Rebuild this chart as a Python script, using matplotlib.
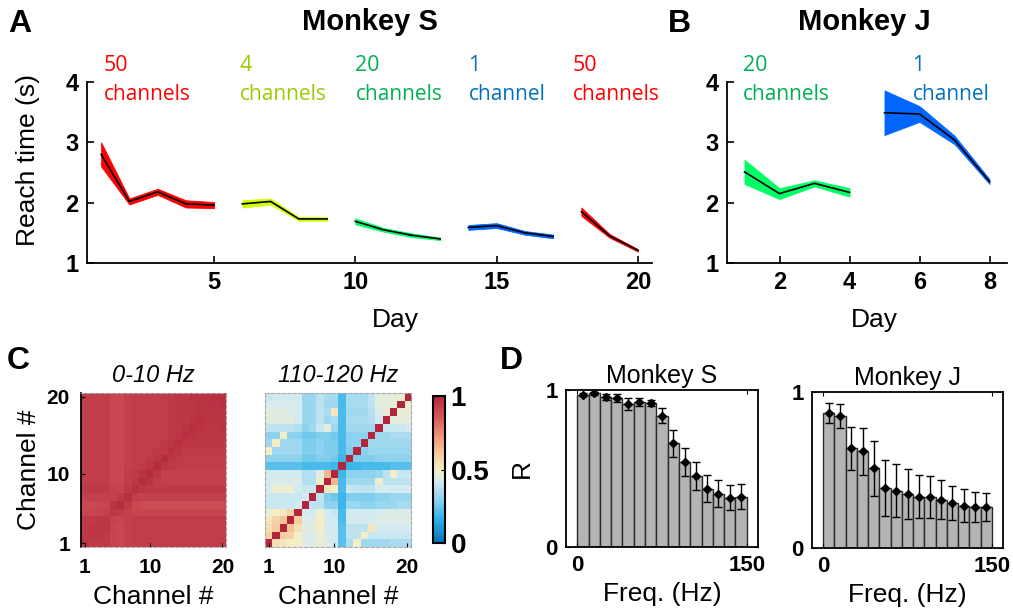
import matplotlib
matplotlib.use('Agg')
import matplotlib.pyplot as plt
import numpy as np
from matplotlib.colors import LinearSegmentedColormap

plt.rcParams['font.family'] = ['Liberation Sans', 'DejaVu Sans']

# ---------------- data ----------------
# Panel A: Monkey S reach times
s_days = [1, 2, 3, 4, 5, 6, 7, 8, 9, 10, 11, 12, 13, 14, 15, 16, 17, 18, 19, 20]
s_channels = [50, 50, 50, 50, 50, 4, 4, 4, 4, 20, 20, 20, 20, 1, 1, 1, 1, 50, 50, 50]
s_mean = [2.80, 2.02, 2.18, 1.98, 1.96, 1.98, 2.02, 1.73, 1.73, 1.69, 1.55, 1.46, 1.40,
          1.59, 1.62, 1.50, 1.44, 1.85, 1.45, 1.21]
s_err = [0.20, 0.05, 0.05, 0.06, 0.05, 0.06, 0.05, 0.03, 0.03, 0.05, 0.03, 0.03, 0.02,
         0.04, 0.04, 0.03, 0.03, 0.07, 0.03, 0.02]

# Panel B: Monkey J reach times
j_days = [1, 2, 3, 4, 5, 6, 7, 8]
j_channels = [20, 20, 20, 20, 1, 1, 1, 1]
j_mean = [2.51, 2.15, 2.32, 2.17, 3.49, 3.47, 3.04, 2.35]
j_err = [0.20, 0.09, 0.05, 0.07, 0.37, 0.13, 0.07, 0.04]

# Panel C: correlation matrices (rows: channel 1..20, cols: channel 1..20)
corr_low = [
    [0.95, 0.94, 0.94, 0.94, 0.91, 0.90, 0.92, 0.93, 0.93, 0.93, 0.93, 0.93, 0.93, 0.93, 0.93, 0.93, 0.93, 0.93, 0.93, 0.93],
    [0.94, 0.95, 0.95, 0.94, 0.91, 0.90, 0.92, 0.93, 0.93, 0.93, 0.93, 0.93, 0.93, 0.93, 0.93, 0.93, 0.93, 0.93, 0.93, 0.93],
    [0.94, 0.95, 0.95, 0.95, 0.91, 0.90, 0.92, 0.93, 0.93, 0.93, 0.93, 0.93, 0.93, 0.93, 0.93, 0.93, 0.93, 0.93, 0.93, 0.93],
    [0.94, 0.94, 0.95, 0.95, 0.92, 0.91, 0.92, 0.93, 0.93, 0.93, 0.93, 0.93, 0.93, 0.93, 0.93, 0.93, 0.93, 0.93, 0.93, 0.93],
    [0.91, 0.91, 0.91, 0.92, 0.95, 0.94, 0.92, 0.91, 0.91, 0.91, 0.91, 0.91, 0.91, 0.91, 0.91, 0.91, 0.91, 0.91, 0.91, 0.91],
    [0.90, 0.90, 0.90, 0.91, 0.96, 0.98, 0.94, 0.90, 0.89, 0.89, 0.89, 0.89, 0.89, 0.89, 0.89, 0.89, 0.89, 0.89, 0.89, 0.89],
    [0.92, 0.92, 0.92, 0.92, 0.92, 0.94, 0.97, 0.93, 0.92, 0.92, 0.92, 0.92, 0.92, 0.92, 0.92, 0.92, 0.92, 0.92, 0.92, 0.92],
    [0.94, 0.94, 0.94, 0.94, 0.92, 0.91, 0.94, 0.97, 0.95, 0.94, 0.94, 0.94, 0.94, 0.94, 0.94, 0.94, 0.94, 0.94, 0.94, 0.94],
    [0.93, 0.93, 0.93, 0.93, 0.90, 0.90, 0.93, 0.95, 0.98, 0.96, 0.93, 0.92, 0.92, 0.92, 0.92, 0.92, 0.92, 0.92, 0.92, 0.92],
    [0.93, 0.93, 0.93, 0.93, 0.90, 0.90, 0.93, 0.94, 0.96, 0.98, 0.95, 0.92, 0.92, 0.92, 0.92, 0.92, 0.92, 0.92, 0.92, 0.92],
    [0.93, 0.93, 0.93, 0.93, 0.90, 0.90, 0.92, 0.93, 0.94, 0.95, 0.98, 0.95, 0.94, 0.93, 0.93, 0.93, 0.93, 0.93, 0.93, 0.93],
    [0.93, 0.93, 0.93, 0.93, 0.90, 0.90, 0.92, 0.93, 0.93, 0.94, 0.95, 0.98, 0.95, 0.94, 0.93, 0.93, 0.93, 0.93, 0.93, 0.93],
    [0.93, 0.93, 0.93, 0.93, 0.90, 0.90, 0.92, 0.93, 0.93, 0.93, 0.94, 0.95, 0.97, 0.95, 0.94, 0.94, 0.94, 0.94, 0.94, 0.94],
    [0.93, 0.93, 0.93, 0.93, 0.90, 0.90, 0.92, 0.93, 0.93, 0.93, 0.93, 0.94, 0.95, 0.97, 0.95, 0.95, 0.95, 0.95, 0.95, 0.95],
    [0.93, 0.93, 0.93, 0.93, 0.90, 0.90, 0.92, 0.93, 0.93, 0.93, 0.93, 0.93, 0.94, 0.95, 0.97, 0.96, 0.95, 0.95, 0.95, 0.95],
    [0.93, 0.93, 0.93, 0.93, 0.90, 0.90, 0.92, 0.93, 0.93, 0.93, 0.93, 0.93, 0.94, 0.95, 0.96, 0.97, 0.96, 0.95, 0.95, 0.96],
    [0.93, 0.93, 0.93, 0.93, 0.90, 0.90, 0.92, 0.93, 0.93, 0.93, 0.93, 0.93, 0.94, 0.95, 0.95, 0.96, 0.97, 0.96, 0.96, 0.96],
    [0.93, 0.93, 0.93, 0.93, 0.90, 0.90, 0.92, 0.93, 0.93, 0.93, 0.93, 0.93, 0.94, 0.95, 0.95, 0.95, 0.96, 0.96, 0.96, 0.96],
    [0.93, 0.93, 0.93, 0.93, 0.90, 0.90, 0.92, 0.93, 0.93, 0.93, 0.93, 0.93, 0.94, 0.95, 0.95, 0.95, 0.96, 0.96, 0.96, 0.97],
    [0.93, 0.93, 0.93, 0.93, 0.90, 0.90, 0.92, 0.93, 0.93, 0.93, 0.93, 0.94, 0.94, 0.95, 0.95, 0.96, 0.96, 0.96, 0.97, 0.97],
]
corr_high = [
    [1.00, 0.55, 0.52, 0.50, 0.50, 0.44, 0.44, 0.48, 0.44, 0.42, 0.22, 0.35, 0.50, 0.33, 0.33, 0.33, 0.33, 0.35, 0.35, 0.35],
    [0.58, 1.00, 0.60, 0.58, 0.50, 0.44, 0.44, 0.48, 0.44, 0.42, 0.22, 0.38, 0.38, 0.50, 0.40, 0.40, 0.40, 0.40, 0.40, 0.40],
    [0.55, 0.60, 1.00, 0.62, 0.55, 0.45, 0.45, 0.50, 0.42, 0.42, 0.22, 0.38, 0.38, 0.38, 0.52, 0.42, 0.42, 0.42, 0.42, 0.42],
    [0.52, 0.58, 0.62, 1.00, 0.60, 0.44, 0.44, 0.50, 0.42, 0.42, 0.20, 0.42, 0.42, 0.42, 0.42, 0.44, 0.44, 0.44, 0.44, 0.44],
    [0.48, 0.50, 0.52, 0.58, 1.00, 0.42, 0.42, 0.48, 0.42, 0.40, 0.20, 0.42, 0.42, 0.42, 0.42, 0.42, 0.44, 0.44, 0.44, 0.44],
    [0.40, 0.40, 0.40, 0.40, 0.42, 1.00, 0.38, 0.38, 0.30, 0.30, 0.18, 0.32, 0.32, 0.30, 0.30, 0.32, 0.32, 0.32, 0.34, 0.34],
    [0.40, 0.40, 0.40, 0.40, 0.40, 0.42, 1.00, 0.38, 0.28, 0.25, 0.18, 0.28, 0.28, 0.28, 0.28, 0.30, 0.30, 0.32, 0.32, 0.32],
    [0.42, 0.48, 0.48, 0.48, 0.42, 0.40, 0.40, 1.00, 0.52, 0.50, 0.20, 0.40, 0.38, 0.38, 0.38, 0.42, 0.42, 0.42, 0.42, 0.42],
    [0.44, 0.44, 0.44, 0.44, 0.44, 0.36, 0.36, 0.50, 1.00, 0.65, 0.20, 0.33, 0.33, 0.33, 0.33, 0.48, 0.38, 0.38, 0.38, 0.38],
    [0.42, 0.42, 0.42, 0.42, 0.42, 0.36, 0.36, 0.45, 0.65, 1.00, 0.18, 0.30, 0.30, 0.30, 0.30, 0.32, 0.38, 0.50, 0.40, 0.40],
    [0.22, 0.22, 0.22, 0.22, 0.22, 0.20, 0.20, 0.20, 0.20, 0.18, 1.00, 0.18, 0.18, 0.20, 0.20, 0.20, 0.20, 0.22, 0.22, 0.22],
    [0.30, 0.30, 0.30, 0.30, 0.30, 0.26, 0.26, 0.28, 0.28, 0.26, 0.18, 1.00, 0.28, 0.28, 0.28, 0.30, 0.30, 0.30, 0.30, 0.30],
    [0.50, 0.33, 0.33, 0.33, 0.33, 0.28, 0.28, 0.30, 0.28, 0.28, 0.20, 0.28, 1.00, 0.30, 0.32, 0.32, 0.32, 0.32, 0.32, 0.32],
    [0.33, 0.50, 0.33, 0.33, 0.33, 0.28, 0.28, 0.30, 0.28, 0.28, 0.20, 0.30, 0.30, 1.00, 0.33, 0.33, 0.33, 0.33, 0.33, 0.33],
    [0.30, 0.30, 0.50, 0.30, 0.30, 0.26, 0.26, 0.28, 0.28, 0.26, 0.20, 0.30, 0.30, 0.30, 1.00, 0.33, 0.33, 0.35, 0.35, 0.35],
    [0.38, 0.38, 0.38, 0.38, 0.36, 0.30, 0.33, 0.40, 0.46, 0.33, 0.20, 0.33, 0.33, 0.33, 0.33, 1.00, 0.40, 0.40, 0.40, 0.42],
    [0.45, 0.45, 0.45, 0.45, 0.42, 0.32, 0.32, 0.38, 0.33, 0.35, 0.20, 0.34, 0.34, 0.34, 0.36, 0.42, 1.00, 0.46, 0.46, 0.46],
    [0.45, 0.45, 0.45, 0.44, 0.42, 0.32, 0.32, 0.38, 0.35, 0.52, 0.20, 0.33, 0.33, 0.33, 0.36, 0.44, 0.46, 1.00, 0.47, 0.47],
    [0.43, 0.43, 0.43, 0.43, 0.42, 0.32, 0.32, 0.38, 0.33, 0.33, 0.20, 0.34, 0.34, 0.34, 0.38, 0.46, 0.46, 0.46, 1.00, 0.48],
    [0.40, 0.42, 0.42, 0.42, 0.42, 0.32, 0.32, 0.38, 0.34, 0.34, 0.20, 0.34, 0.34, 0.34, 0.38, 0.46, 0.46, 0.46, 0.48, 1.00],
]

# Panel D: decoding R per frequency band
freq_bins_hz = [5, 15, 25, 35, 45, 55, 65, 75, 85, 95, 105, 115, 125, 135, 145]
r_monkey_s = [0.97, 0.98, 0.955, 0.947, 0.91, 0.925, 0.915, 0.836, 0.66, 0.54, 0.45, 0.37, 0.34, 0.315, 0.32]
r_err_s = [0.01, 0.01, 0.02, 0.025, 0.04, 0.025, 0.02, 0.048, 0.085, 0.09, 0.09, 0.086, 0.085, 0.08, 0.08]
r_monkey_j = [0.866, 0.845, 0.638, 0.62, 0.51, 0.383, 0.368, 0.347, 0.33, 0.326, 0.31, 0.287, 0.272, 0.262, 0.26]
r_err_j = [0.065, 0.075, 0.14, 0.15, 0.178, 0.178, 0.17, 0.158, 0.14, 0.135, 0.125, 0.11, 0.105, 0.097, 0.09]

# ---------------- styles ----------------
band_colors = {50: '#ff0000', 4: '#ccff00', 20: '#00ff66', 1: '#0066ff'}
label_colors = {50: '#ff0000', 4: '#99cc00', 20: '#00b050', 1: '#0070c0'}

W, H = 1013, 616


def rect(l, t, r, b):
    return [l / W, 1 - b / H, (r - l) / W, (b - t) / H]


fig = plt.figure(figsize=(W / 100, H / 100), dpi=100)


def segments(chans):
    segs = []
    start = 0
    for i in range(1, len(chans) + 1):
        if i == len(chans) or chans[i] != chans[start]:
            segs.append((start, i))
            start = i
    return segs


def reach_panel(ax, days, chans, mean, err, label_x, xticks, xlim):
    days = np.array(days)
    mean = np.array(mean)
    err = np.array(err)
    for k, (a, b) in enumerate(segments(chans)):
        c = chans[a]
        ax.fill_between(days[a:b], mean[a:b] - err[a:b], mean[a:b] + err[a:b],
                        color=band_colors[c], lw=0.6, edgecolor=band_colors[c])
        ax.plot(days[a:b], mean[a:b], color='k', lw=1.2)
        word = 'channel' if c == 1 else 'channels'
        ax.text(label_x[k], 4.18, str(c), color=label_colors[c], fontsize=15.5,
                family='Open Sans', va='baseline', ha='left', clip_on=False)
        ax.text(label_x[k], 3.70, word, color=label_colors[c], fontsize=15,
                family='Open Sans', va='baseline', ha='left', clip_on=False)
    ax.set_xlim(*xlim)
    ax.set_ylim(1, 4)
    ax.set_xticks(xticks)
    ax.set_yticks([1, 2, 3, 4])
    for s in ['top', 'right']:
        ax.spines[s].set_visible(False)
    for s in ['left', 'bottom']:
        ax.spines[s].set_linewidth(1.3)
    ax.tick_params(direction='in', length=5, width=1.2, labelsize=17, pad=6)
    for t in ax.get_xticklabels() + ax.get_yticklabels():
        t.set_fontweight('bold')
    ax.set_xlabel('Day', fontsize=19)


# Panel A
axA = fig.add_axes(rect(87, 82, 652, 263))
reach_panel(axA, s_days, s_channels, s_mean, s_err,
            [1.1, 5.9, 10.0, 14.0, 17.7], [5, 10, 15, 20], (0.5, 20.5))
axA.set_ylabel('Reach time (s)', fontsize=19)
axA.yaxis.set_label_coords(-0.083, 0.57)
axA.xaxis.set_label_coords(0.545, -0.25)

# Panel B
axB = fig.add_axes(rect(727, 82, 1007, 263))
reach_panel(axB, j_days, j_channels, j_mean, j_err,
            [0.96, 5.8], [2, 4, 6, 8], (0.5, 8.5))
axB.xaxis.set_label_coords(0.525, -0.25)

fig.text(8 / W, 1 - 9 / H, 'A', fontsize=23, fontweight='bold', va='top', ha='left')
fig.text(668 / W, 1 - 9 / H, 'B', fontsize=23, fontweight='bold', va='top', ha='left')
fig.text(370 / W, 1 - 30 / H, 'Monkey S', fontsize=21, fontweight='bold', ha='center', va='baseline')
fig.text(864 / W, 1 - 30 / H, 'Monkey J', fontsize=21, fontweight='bold', ha='center', va='baseline')

# Panel C
cmap = LinearSegmentedColormap.from_list('corr', [
    (0.00, '#0b6db5'), (0.15, '#27aee6'), (0.30, '#8fd3f0'), (0.42, '#d5ebf2'),
    (0.50, '#f5eec6'), (0.60, '#f8cc9f'), (0.72, '#f09a7c'), (0.85, '#d55a5c'),
    (1.00, '#b1263b')])

axC1 = fig.add_axes(rect(81, 393, 226, 547))
axC2 = fig.add_axes(rect(265, 393, 411, 547))
for ax, mat, title in [(axC1, corr_low, '0-10 Hz'), (axC2, corr_high, '110-120 Hz')]:
    im = ax.imshow(np.array(mat), cmap=cmap, vmin=0, vmax=1, origin='lower',
                   extent=(0.5, 20.5, 0.5, 20.5), aspect='auto', interpolation='nearest')
    ax.set_xticks([1, 10, 20])
    ax.set_xticklabels(['1', '10', '20'], fontsize=15, fontweight='bold')
    ax.tick_params(direction='in', length=3, pad=8)
    for s in ax.spines.values():
        s.set_linestyle((0, (3, 2)))
        s.set_color('#aaaaaa')
        s.set_linewidth(0.8)
    ax.set_title(title, fontsize=17, style='italic', pad=8)
    ax.set_xlabel('Channel #', fontsize=19, labelpad=6)

axC1.set_yticks([1, 10, 20])
axC1.set_yticklabels(['1', '10', '20'], fontsize=15, fontweight='bold')
axC1.spines['left'].set_linestyle('-')
axC1.spines['left'].set_color('k')
axC1.spines['left'].set_linewidth(1.3)
axC1.set_ylabel('Channel #', fontsize=19, labelpad=4)
axC2.set_yticks([])

cax = fig.add_axes(rect(433, 396, 445, 543))
cb = fig.colorbar(im, cax=cax, ticks=[0, 0.5, 1])
cb.ax.set_yticklabels(['0', '0.5', '1'], fontsize=20, fontweight='bold')
cb.outline.set_linewidth(1.5)
cb.ax.tick_params(direction='in', length=3, pad=4)

fig.text(7 / W, 1 - 346 / H, 'C', fontsize=23, fontweight='bold', va='top', ha='left')

# Panel D
axD1 = fig.add_axes(rect(566, 390, 758, 547))
axD2 = fig.add_axes(rect(812, 392, 1003, 548))
for ax, vals, errs, title in [(axD1, r_monkey_s, r_err_s, 'Monkey S'),
                               (axD2, r_monkey_j, r_err_j, 'Monkey J')]:
    ax.bar(freq_bins_hz, vals, width=10, color='#b4b4b4', edgecolor='#2a2a2a', linewidth=1)
    ax.errorbar(freq_bins_hz, vals, yerr=errs, fmt='D', color='k', ms=4,
                capsize=3, elinewidth=1, capthick=1)
    ax.set_xlim(-10, 160)
    ax.set_ylim(0, 1)
    ax.set_xticks([0, 150])
    ax.set_yticks([0, 1])
    ax.set_xticklabels(['0', '150'], fontsize=16, fontweight='bold')
    ax.set_yticklabels(['0', '1'], fontsize=16, fontweight='bold')
    ax.tick_params(direction='in', length=3, pad=6, top=True, right=True)
    for s in ax.spines.values():
        s.set_linewidth(1.3)
    ax.set_title(title, fontsize=18, pad=5)
    ax.set_xlabel('Freq. (Hz)', fontsize=19, labelpad=4)
axD1.set_ylabel('R', fontsize=19, labelpad=8)

fig.text(500 / W, 1 - 346 / H, 'D', fontsize=23, fontweight='bold', va='top', ha='left')

fig.savefig('out.png', dpi=100)
